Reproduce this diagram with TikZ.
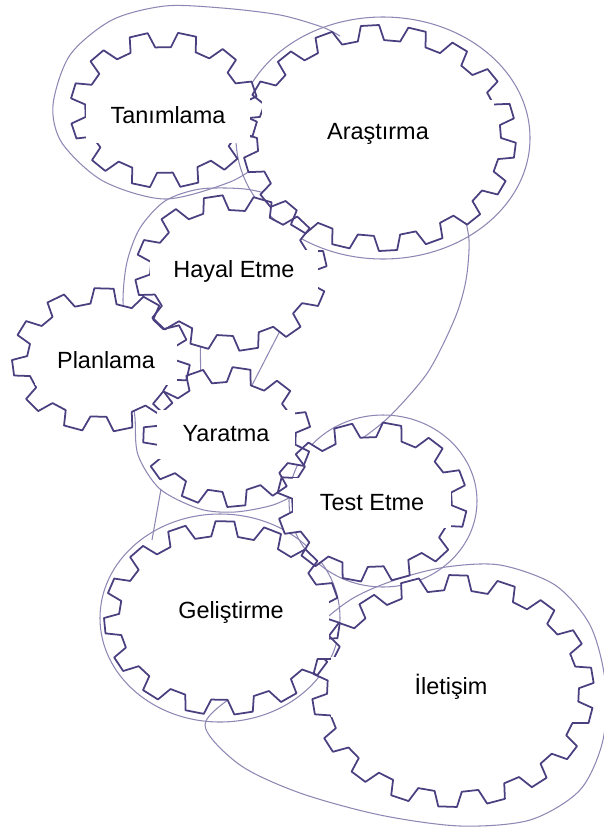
\documentclass[tikz,border=0pt]{standalone}
\usepackage{fontspec}
\setmainfont{Liberation Sans}
\usepackage{tikz}
\usepackage{xcolor}
\definecolor{gearpurple}{HTML}{4B3F80}
\definecolor{beltpurple}{HTML}{8F87B3}
\newcommand{\gearlist}{164/110/94/78/12/5, 379/138/137/113/18/0,
  231/273/96/78/12/10, 101/360/89/72/11/0, 227/437/84/70/11/8,
  372/502/95/80/12/3, 222/618/118/97/15/0, 453/691/141/116/18/6}

\begin{document}
\begin{tikzpicture}[
    x=0.03cm, y=-0.03cm,
    gearline/.style={draw=gearpurple, line width=1.5pt, line join=round},
    belt/.style={draw=beltpurple, line width=0.9pt},
    lbl/.style={fill=white, inner sep=0pt, font=\fontsize{20}{24}\selectfont},
    teeth/.style n args={5}{insert path={
        ({(#1-#4)*cos(#5)},{(#2-#4)*sin(#5)})
        \foreach \k in {1,...,#3} {
          -- ({(#1-#4)*cos(#5+(\k-1)*360/#3)},{(#2-#4)*sin(#5+(\k-1)*360/#3)})
          -- ({#1*cos(#5+(\k-0.88)*360/#3)},{#2*sin(#5+(\k-0.88)*360/#3)})
          -- ({#1*cos(#5+(\k-0.5)*360/#3)},{#2*sin(#5+(\k-0.5)*360/#3)})
          -- ({(#1-#4)*cos(#5+(\k-0.38)*360/#3)},{(#2-#4)*sin(#5+(\k-0.38)*360/#3)})
        } -- cycle}},
  ]
  \useasboundingbox (0,0) rectangle (603,828);

  \draw[belt] plot[smooth] coordinates {(262,162) (230,182) (165,199) (103,181)
    (62,143) (53,105) (70,55) (112,20) (165,6) (222,8) (280,15) (322,27) (340,36)};
  \draw[belt] (383,138) ellipse [x radius=147, y radius=121];
  \draw[belt] plot[smooth] coordinates {(280,197) (245,189) (200,189) (165,201)
    (140,228) (127,262) (123,300) (127,335)};
  \draw[belt] plot[smooth] coordinates {(132,395) (135,418) (138,455) (160,489)
    (200,509) (235,512) (273,505) (300,492)};
  \draw[belt] plot[smooth] coordinates {(462,205) (469,240) (466,280) (455,318)
    (428,372) (390,416) (360,440)};
  \draw[belt] (200,325) -- (201,395);
  \draw[belt] (283,325) -- (247,395);
  \draw[belt] (161,489) -- (152,540);
  \draw[belt] (383,501) ellipse [x radius=94, y radius=86];
  \draw[belt] (220,618) ellipse [x radius=120, y radius=104];
  \draw[belt] plot[smooth cycle] coordinates {(205,725) (240,765) (300,793)
    (380,815) (460,826) (530,820) (580,790) (603,740) (605,680) (590,625)
    (555,585) (500,565) (446,567) (395,580) (350,600) (300,640) (240,690)};

  \foreach \cx/\cy/\rx/\ry/\n/\ph in \gearlist
    \fill[white, shift={(\cx,\cy)}, teeth={\rx}{\ry}{\n}{15}{\ph}];
  \foreach \cx/\cy/\rx/\ry/\n/\ph in \gearlist
    \draw[gearline, shift={(\cx,\cy)}, teeth={\rx}{\ry}{\n}{15}{\ph}];

  \node[lbl, minimum width=4.89cm, minimum height=1.68cm] (tanim) at (168,115) {Tanımlama};
  \node[lbl, minimum width=6.96cm, minimum height=2.04cm] (arastir) at (378,134) {Araştırma};
  \node[lbl, minimum width=5.04cm, minimum height=1.26cm] (hayal) at (234,271) {Hayal Etme};
  \node[lbl, minimum width=4.26cm, minimum height=1.5cm] (plan) at (106,360) {Planlama};
  \node[lbl, minimum width=4.11cm, minimum height=1.47cm] (yarat) at (226,434) {Yaratma};
  \node[lbl, minimum width=4.74cm, minimum height=1.5cm] (test) at (372,503) {Test Etme};
  \node[lbl, minimum width=5.9cm, text height=0.93cm, text depth=1.2cm,
    anchor=base] (gelis) at (231,618) {Geliştirme};
  \node[lbl, minimum width=7.2cm, minimum height=1.8cm] (ileti) at (451,687) {İletişim};
\end{tikzpicture}
\end{document}
